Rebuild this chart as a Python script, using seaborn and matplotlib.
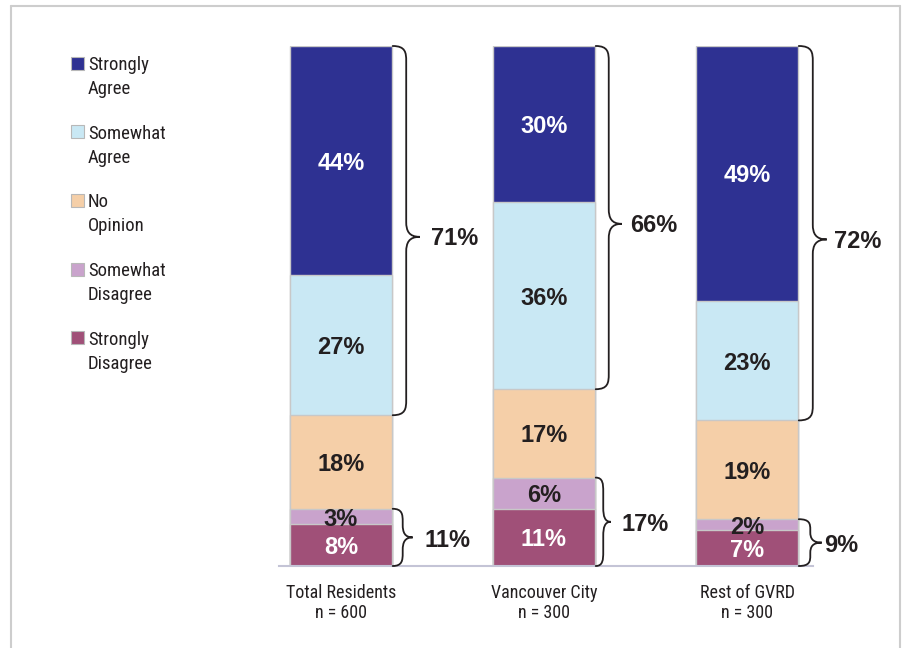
import numpy as np
import pandas as pd
import matplotlib
matplotlib.use("Agg")
import matplotlib.pyplot as plt
import seaborn as sns
from matplotlib.path import Path
from matplotlib.patches import PathPatch, Rectangle
from matplotlib.lines import Line2D
from matplotlib import font_manager as fm

# ---------------- data ----------------
groups = ["Total Residents", "Vancouver City", "Rest of GVRD"]
sample_sizes = [600, 300, 300]
responses = ["Strongly Agree", "Somewhat Agree", "No Opinion",
             "Somewhat Disagree", "Strongly Disagree"]
strongly_agree = [44, 30, 49]
somewhat_agree = [27, 36, 23]
no_opinion = [18, 17, 19]
somewhat_disagree = [3, 6, 2]
strongly_disagree = [8, 11, 7]
agree_totals = [71, 66, 72]
disagree_totals = [11, 17, 9]

colors = ["#2e3192", "#c9e8f4", "#f5cfa8", "#c9a3cc", "#a05078"]
label_colors = ["white", "#231f20", "#231f20", "#231f20", "white"]
TXT = "#231f20"

sns.set_theme(style="white")
names = {f.name for f in fm.fontManager.ttflist}
cond = next((n for n in ["Liberation Sans Narrow", "Roboto Condensed",
                         "Open Sans Condensed", "Liberation Sans"] if n in names),
            "DejaVu Sans")
boldfont = "Liberation Sans" if "Liberation Sans" in names else "DejaVu Sans"
plt.rcParams["font.family"] = [cond, "DejaVu Sans"]

W, H = 902, 648
fig = plt.figure(figsize=(W / 100, H / 100), dpi=100)
ax = fig.add_axes([279 / W, 1 - 566 / H, 534 / W, 520 / H])

# stacking bottom -> top
layers_bottom_up = [strongly_disagree, somewhat_disagree, no_opinion,
                    somewhat_agree, strongly_agree]
layer_colors_bu = colors[::-1]
label_colors_bu = label_colors[::-1]
cum = np.cumsum(np.array(layers_bottom_up), axis=0)

# draw cumulative bars from the top layer down (seaborn stacked trick)
for k in range(len(layers_bottom_up) - 1, -1, -1):
    df = pd.DataFrame({"group": groups, "top": cum[k]})
    sns.barplot(data=df, x="group", y="top", color=layer_colors_bu[k],
                saturation=1, width=0.5, edgecolor="#c8c8c8", linewidth=1,
                ax=ax, zorder=2)

# segment labels
for k, vals in enumerate(layers_bottom_up):
    for i, v in enumerate(vals):
        base = cum[k][i] - v
        ax.text(i, base + v / 2 - 0.5, f"{v}%", ha="center", va="center",
                fontsize=17, fontweight="bold", color=label_colors_bu[k],
                family=boldfont, zorder=5)

ax.set_xlim(-0.305, 2.325)
ax.set_ylim(0, 100)
ax.set_xlabel("")
ax.set_ylabel("")
ax.set_yticks([])
ax.set_xticks(range(len(groups)))
ax.set_xticklabels([f"{g}\nn = {n}" for g, n in zip(groups, sample_sizes)],
                   fontsize=13, color=TXT, linespacing=1.15)
ax.tick_params(axis="x", length=0, pad=13)
for s in ["left", "right", "top"]:
    ax.spines[s].set_visible(False)
ax.spines["bottom"].set_color("#c4c4d6")
ax.spines["bottom"].set_linewidth(1.5)

# braces
px_x = 534 / 2.63
px_y = 520 / 100.0


def brace(x0, yb, yt, w_px, r_px, tip_shift=0.0):
    w = w_px / px_x
    h = w / 2
    r = r_px / px_y
    ym = (yb + yt) / 2 + tip_shift
    verts = [
        (x0, yt), (x0 + h * 0.95, yt), (x0 + h, yt - r * 0.45), (x0 + h, yt - r),
        (x0 + h, ym + r),
        (x0 + h, ym + r * 0.4), (x0 + h * 1.2, ym), (x0 + w, ym),
        (x0 + h * 1.2, ym), (x0 + h, ym - r * 0.4), (x0 + h, ym - r),
        (x0 + h, yb + r),
        (x0 + h, yb + r * 0.45), (x0 + h * 0.95, yb), (x0, yb),
    ]
    codes = [Path.MOVETO, Path.CURVE4, Path.CURVE4, Path.CURVE4,
             Path.LINETO,
             Path.CURVE4, Path.CURVE4, Path.CURVE4,
             Path.CURVE4, Path.CURVE4, Path.CURVE4,
             Path.LINETO,
             Path.CURVE4, Path.CURVE4, Path.CURVE4]
    p = PathPatch(Path(verts, codes), fill=False, edgecolor=TXT, lw=1.3,
                  clip_on=False, zorder=6, capstyle="round")
    ax.add_patch(p)
    return ym


totals = cum[-1]
big_w = [27, 26, 28]
big_lab = [0.56, 0.54, 0.547]
small_w = [20, 15, 23]
small_lab = [0.527, 0.50, 0.463]
for i in range(len(groups)):
    yt = totals[i]
    yb = yt - agree_totals[i]
    ym = brace(i + 0.255, yb, yt, big_w[i], 15, tip_shift=-1.2)
    ax.text(i + big_lab[i], ym - 0.4, f"{agree_totals[i]}%", ha="center",
            va="center", fontsize=17, fontweight="bold", color=TXT,
            family=boldfont, clip_on=False)
    span_px = disagree_totals[i] * px_y
    ym = brace(i + 0.255, 0, disagree_totals[i], small_w[i], min(14, span_px / 4.5))
    ax.text(i + small_lab[i], ym - 0.6, f"{disagree_totals[i]}%", ha="center",
            va="center", fontsize=17, fontweight="bold", color=TXT,
            family=boldfont, clip_on=False)

# legend (manual, top-left)
for j, (lab, c) in enumerate(zip(responses, colors)):
    yc = 63 + j * 68.7
    fig.add_artist(Rectangle((71 / W, 1 - (yc + 6.5) / H), 13 / W, 13 / H,
                             transform=fig.transFigure, facecolor=c,
                             edgecolor="#b8b8b8", lw=0.8))
    first, second = lab.split(" ", 1)
    fig.text(88 / W, 1 - yc / H, first, ha="left", va="center_baseline",
             fontsize=13.5, color=TXT)
    fig.text(88 / W, 1 - (yc + 24) / H, second, ha="left", va="center_baseline",
             fontsize=13.5, color=TXT)

# outer frame
fc = "#cdcdcd"
fig.add_artist(Line2D([11 / W, 11 / W], [0, 1 - 6 / H], transform=fig.transFigure, color=fc, lw=1.5))
fig.add_artist(Line2D([11 / W, 900 / W], [1 - 6 / H, 1 - 6 / H], transform=fig.transFigure, color=fc, lw=1.5))
fig.add_artist(Line2D([900 / W, 900 / W], [0, 1 - 6 / H], transform=fig.transFigure, color=fc, lw=1.5))

fig.savefig("out.png", dpi=100, facecolor="white")
